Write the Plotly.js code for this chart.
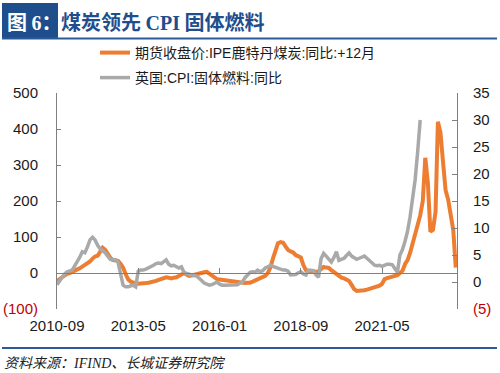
<!DOCTYPE html>
<html>
<head>
<meta charset="utf-8">
<script src="https://cdn.plot.ly/plotly-3.0.1.min.js"></script>
<style>html,body{margin:0;padding:0;background:#fff;}#chart{width:500px;height:373px;}</style>
</head>
<body>
<div id="chart"></div>
<script>
// ---- data ----
const startMonth = '2010-09';
const seriesOrangeName = '期货收盘价:IPE鹿特丹煤炭:同比:+12月';
const seriesGrayName = '英国:CPI:固体燃料:同比';
// left axis (%), monthly from 2010-09
const orangeYoY = [
  -22,-17,-10,-5,-2,0,4,7,10,13,
  17,22,28,32,40,46,48,60,70,64,
  52,42,36,34,34,26,15,-3,-18,-24,
  -27,-29,-30,-30,-29,-28,-27,-26,-25,-22,
  -19,-17,-14,-12,-13,-15,-13,-12,-8,-3,
  0,-4,-8,-7,-5,-5,-3,0,2,3,
  -2,-8,-13,-17,-18,-19,-20,-21,-22,-24,
  -25,-26,-27,-28,-28,-27,-27,-24,-21,-19,
  -16,-14,-8,0,15,40,64,83,86,84,
  74,64,60,57,50,45,43,22,8,5,
  6,4,3,5,10,17,15,14,8,2,
  -4,-10,-13,-15,-18,-22,-33,-45,-50,-50,
  -49,-48,-46,-44,-42,-40,-39,-35,-30,-17,
  -14,-12,-11,-9,-6,0,6,25,35,55,
  80,111,135,160,200,320,250,115,120,170,
  420,390,310,230,205,160,120,15
];
// right axis (%), monthly from 2010-09
const grayYoY = [
  -0.5,0.2,0.8,1.5,1.9,2.1,2.2,3.0,3.7,4.6,
  5.6,5.4,6.5,7.8,8.3,7.8,6.8,6.1,5.8,5.4,
  4.8,4.2,4.1,4.1,3.7,1.5,-0.6,-0.9,-0.9,-0.7,
  -0.6,-0.9,2.0,2.2,2.2,2.4,2.6,2.8,3.1,3.4,
  3.5,3.4,3.7,4.1,3.3,3.0,3.1,2.8,2.6,2.8,
  1.8,1.6,1.4,1.3,1.2,1.1,0.7,0.2,-0.2,-0.4,
  -0.6,-0.5,-0.2,0,-0.4,-0.6,-0.6,-0.6,-0.6,-0.5,
  -0.6,-0.5,-0.2,0,0.8,1.3,1.8,1.9,1.8,2.2,
  1.9,2.1,2.6,2.8,3.1,2.9,2.7,2.6,2.4,2.2,
  2.2,2.0,1.3,1.3,1.4,1.7,1.9,1.5,1.3,2.2,
  2.2,2.1,1.3,0.9,4.3,5.3,4.8,4.3,3.7,4.5,
  5.6,4.0,4.2,4.4,4.9,5.4,4.8,4.4,4.2,4.4,
  4.6,4.8,4.4,3.9,3.5,3.1,3.0,3.1,2.9,3.1,
  3.3,3.3,3.2,2.5,1.8,5.0,6.0,7.6,9.3,12.0,
  15.0,18.9,24,30
];
const xTickMonths = ['2010-09','2013-05','2016-01','2018-09','2021-05'];
const xRangeEnd = '2023-10-16';
const leftTicks = [-100,0,100,200,300,400,500];
const leftTickText = ['<span style="color:#c00000">(100)</span>','0','100','200','300','400','500'];
const rightTicks = [-5,0,5,10,15,20,25,30,35];
const rightTickText = ['<span style="color:#c00000">(5)</span>','0','5','10','15','20','25','30','35'];

// ---- helpers ----
function monthSeq(start, n){
  let [y,m] = start.split('-').map(Number);
  const out = [];
  for(let i=0;i<n;i++){
    out.push(y + '-' + String(m).padStart(2,'0') + '-01');
    m++; if(m>12){m=1;y++;}
  }
  return out;
}
const L=57, R=457, T=93, B=309;
const X = px => (px-L)/(R-L);
const Y = py => (B-py)/(B-T);

const tickVals = xTickMonths.map(s=>s+'-01');
const xRange = [startMonth+'-01', xRangeEnd];
const baseFont = 'Liberation Sans, Arial, Noto Sans CJK SC, sans-serif';

const traces = [
  {x: monthSeq(startMonth, orangeYoY.length), y: orangeYoY, name: seriesOrangeName, type:'scatter', mode:'lines',
   line:{color:'#ED7D31', width:4}, xaxis:'x', yaxis:'y', legend:'legend', hoverinfo:'skip'},
  {x: monthSeq(startMonth, grayYoY.length), y: grayYoY, name: seriesGrayName, type:'scatter', mode:'lines',
   line:{color:'#A9A9A9', width:3.5}, xaxis:'x', yaxis:'y2', legend:'legend2', hoverinfo:'skip'},
  {x: [], y: [], xaxis:'x2', yaxis:'y', showlegend:false, hoverinfo:'skip', type:'scatter', mode:'lines'}
];

const axisCol = '#808080';
const layout = {
  width:500, height:373,
  margin:{l:L, r:500-R, t:T, b:373-B, pad:0},
  paper_bgcolor:'#ffffff', plot_bgcolor:'#ffffff',
  font:{family:baseFont, size:15, color:'#1a1a1a'},
  xaxis:{type:'date', range:xRange, anchor:'free', position:Y(273), showline:true, linecolor:axisCol, linewidth:1,
    ticks:'inside', ticklen:5, tickcolor:axisCol, tickvals:tickVals, showticklabels:false, showgrid:false, zeroline:false, fixedrange:true},
  xaxis2:{type:'date', range:xRange, overlaying:'x', anchor:'y', side:'bottom', showline:false, ticks:'',
    tickvals:tickVals, tickformat:'%Y-%m', showgrid:false, zeroline:false, ticklabelstandoff:6,
    tickfont:{size:15, color:'#1a1a1a'}, fixedrange:true},
  yaxis:{range:[-100,500], tickvals:leftTicks, ticktext:leftTickText, showline:true, linecolor:axisCol, linewidth:1,
    ticks:'inside', ticklen:4, tickcolor:axisCol, showgrid:false, zeroline:false, ticklabelstandoff:15, fixedrange:true},
  yaxis2:{range:[-5,35], overlaying:'y', side:'right', tickvals:rightTicks, ticktext:rightTickText, showline:true,
    linecolor:axisCol, linewidth:1, ticks:'inside', ticklen:5, tickcolor:axisCol, showgrid:false, zeroline:false,
    ticklabelstandoff:12, fixedrange:true},
  showlegend:true,
  legend:{x:X(95), y:Y(53), xanchor:'left', yanchor:'middle', bgcolor:'rgba(0,0,0,0)', font:{size:14, family:baseFont, color:'#1a1a1a'}},
  legend2:{x:X(95), y:Y(78), xanchor:'left', yanchor:'middle', bgcolor:'rgba(0,0,0,0)', font:{size:14, family:baseFont, color:'#1a1a1a'}},
  shapes:[
    {type:'rect', xref:'paper', yref:'paper', x0:X(2), x1:X(58), y0:Y(38), y1:Y(3), fillcolor:'#1F4E8C', line:{width:0}},
    {type:'line', xref:'paper', yref:'paper', x0:X(2), x1:X(497), y0:Y(38.5), y1:Y(38.5), line:{color:'#2C5A98', width:2}},
    {type:'line', xref:'paper', yref:'paper', x0:X(2), x1:X(497), y0:Y(348), y1:Y(348), line:{color:'#2C5A98', width:2}}
  ],
  annotations:[
    {xref:'paper', yref:'paper', x:X(5), y:Y(21), xanchor:'left', yanchor:'middle', showarrow:false,
     text:'<b>图 <span style="font-family:Liberation Serif">6</span>：</b>', font:{size:20, color:'#ffffff', family:'Noto Sans CJK SC, sans-serif'}},
    {xref:'paper', yref:'paper', x:X(59), y:Y(21), xanchor:'left', yanchor:'middle', showarrow:false,
     text:'<b>煤炭领先 <span style="font-family:Liberation Serif">CPI</span> 固体燃料</b>', font:{size:20, color:'#1F4E8C', family:'Noto Sans CJK SC, sans-serif'}},
    {xref:'paper', yref:'paper', x:X(2), y:Y(362), xanchor:'left', yanchor:'middle', showarrow:false,
     text:'<i>资料来源：<span style="font-family:Liberation Serif">IFIND</span>、长城证券研究院</i>', font:{size:14, color:'#222222', family:'Noto Sans CJK SC, sans-serif'}}
  ]
};

Plotly.newPlot('chart', traces, layout, {staticPlot:true, displayModeBar:false});
</script>
</body>
</html>
